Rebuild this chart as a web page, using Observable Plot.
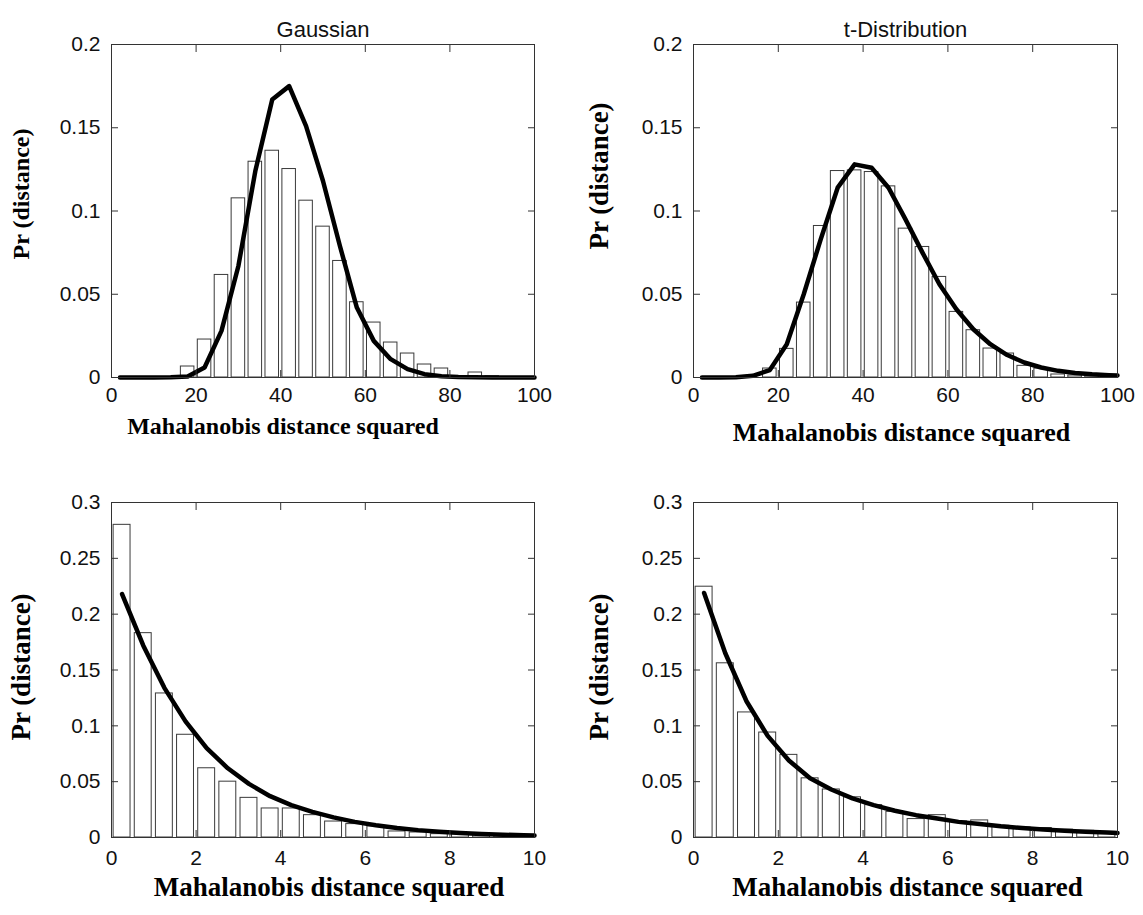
<!DOCTYPE html>
<html><head><meta charset="utf-8">
<script src="https://cdn.jsdelivr.net/npm/d3@7"></script>
<script src="https://cdn.jsdelivr.net/npm/@observablehq/plot@0.6"></script>
<style>
body{margin:0;background:#fff;}
#wrap{position:relative;width:1143px;height:915px;overflow:hidden;}
#wrap > svg{position:absolute;}
</style></head><body><div id="wrap"></div>
<script>
// ---------- data ----------
const titles = ["Gaussian", "t-Distribution"];
const xLabel = "Mahalanobis distance squared";
const yLabel = "Pr (distance)";

const topTicksX = [0, 20, 40, 60, 80, 100];
const topTicksY = [0, 0.05, 0.1, 0.15, 0.2];
const bottomTicksX = [0, 2, 4, 6, 8, 10];
const bottomTicksY = [0, 0.05, 0.1, 0.15, 0.2, 0.25, 0.3];

// top row: histogram bin centres (width 4)
const topBins = [18, 22, 26, 30, 34, 38, 42, 46, 50, 54, 58, 62, 66, 70, 74, 78, 82, 86, 90, 94, 98];
const gaussTopBars = [0.0066, 0.0228, 0.0616, 0.1076, 0.1296, 0.1362, 0.1252, 0.1062, 0.0906, 0.0700, 0.0452, 0.0330, 0.0210, 0.0144, 0.0078, 0.0054, 0.0005, 0.0030, 0.0008, 0, 0];
const tTopBars = [0.0054, 0.0172, 0.0450, 0.0910, 0.1240, 0.1244, 0.1234, 0.1148, 0.0894, 0.0784, 0.0604, 0.0394, 0.0284, 0.0174, 0.0144, 0.0070, 0.0054, 0.0018, 0.0012, 0.0008, 0.0005];

// top row: fitted curves
const topCurveX = [2, 6, 10, 14, 18, 22, 26, 30, 34, 38, 42, 46, 50, 54, 58, 62, 66, 70, 74, 78, 82, 86, 90, 94, 98, 100];
const gaussTopCurve = [0, 0, 0, 0.0001, 0.0006, 0.0060, 0.0280, 0.0670, 0.1240, 0.1670, 0.1750, 0.1510, 0.1180, 0.0790, 0.0420, 0.0220, 0.0110, 0.0050, 0.0020, 0.0008, 0.0003, 0.0001, 0, 0, 0, 0];
const tTopCurve = [0, 0, 0.0002, 0.0010, 0.0045, 0.0200, 0.0500, 0.0830, 0.1140, 0.1280, 0.1260, 0.1140, 0.0950, 0.0750, 0.0560, 0.0410, 0.0290, 0.0200, 0.0135, 0.0090, 0.0060, 0.0040, 0.0027, 0.0019, 0.0014, 0.0012];

// bottom row: histogram bin centres (width 0.5)
const bottomBins = [0.25, 0.75, 1.25, 1.75, 2.25, 2.75, 3.25, 3.75, 4.25, 4.75, 5.25, 5.75, 6.25, 6.75, 7.25, 7.75, 8.25, 8.75, 9.25, 9.75];
const gaussBottomBars = [0.280, 0.183, 0.129, 0.092, 0.062, 0.050, 0.0355, 0.026, 0.026, 0.020, 0.0143, 0.012, 0.010, 0.0054, 0.0045, 0.003, 0.003, 0.002, 0.0015, 0.001];
const tBottomBars = [0.2246, 0.156, 0.112, 0.094, 0.074, 0.053, 0.043, 0.036, 0.029, 0.023, 0.0165, 0.020, 0.0144, 0.0153, 0.0105, 0.009, 0.0085, 0.007, 0.006, 0.005];

// bottom row: fitted curves
const bottomCurveX = [0.25, 0.75, 1.25, 1.75, 2.25, 2.75, 3.25, 3.75, 4.25, 4.75, 5.25, 5.75, 6.25, 6.75, 7.25, 7.75, 8.25, 8.75, 9.25, 9.75, 10];
const gaussBottomCurve = [0.218, 0.172, 0.134, 0.104, 0.080, 0.062, 0.048, 0.037, 0.029, 0.023, 0.018, 0.014, 0.011, 0.0085, 0.0066, 0.0052, 0.0040, 0.0032, 0.0025, 0.0020, 0.0018];
const tBottomCurve = [0.219, 0.165, 0.122, 0.091, 0.069, 0.053, 0.043, 0.035, 0.029, 0.024, 0.020, 0.017, 0.014, 0.012, 0.010, 0.0085, 0.0072, 0.0061, 0.0052, 0.0044, 0.0040];

// ---------- drawing ----------
const wrap = document.getElementById("wrap");
const axisColor = "#333";
const tickFont = "Liberation Sans, Arial, sans-serif";
const labelFont = "Liberation Serif, Times New Roman, serif";
const fmt = d => String(d);

function panel(o) {
  const barData = o.bins.map((c, i) => ({c, v: o.bars[i]}));
  const lineData = o.curveX.map((x, i) => ({x, y: o.curveY[i]}));
  const marks = [
    Plot.rectY(barData, {x1: d => d.c - o.binW * 0.4, x2: d => d.c + o.binW * 0.4, y1: 0, y2: "v",
      fill: "white", stroke: "#3a3a3a", strokeWidth: 1}),
    Plot.line(lineData, {x: "x", y: "y", stroke: "black", strokeWidth: 4.5}),
    Plot.frame({stroke: axisColor, strokeWidth: 1}),
    Plot.axisX({ticks: o.xTicks, tickFormat: fmt, anchor: "bottom", tickSize: -7, tickPadding: o.xPad, label: null,
      stroke: axisColor, fontSize: 21, fontFamily: tickFont, fill: "#111"}),
    Plot.axisX({ticks: o.xTicks, anchor: "top", tickSize: -7, tickFormat: () => "", label: null, stroke: axisColor}),
    Plot.axisY({ticks: o.yTicks, tickFormat: fmt, anchor: "left", tickSize: -7, tickPadding: 18, label: null,
      stroke: axisColor, fontSize: 21, fontFamily: tickFont, fill: "#111"}),
    Plot.axisY({ticks: o.yTicks, anchor: "right", tickSize: -7, tickFormat: () => "", label: null, stroke: axisColor}),
    Plot.text([xLabel], {text: d => d, frameAnchor: "bottom", textAnchor: "middle", dx: o.xLabelDx, dy: o.xLabelDy, fontSize: o.xLabelSize,
      fontWeight: "bold", fontFamily: labelFont, fill: "black"}),
    Plot.text([yLabel], {text: d => d, frameAnchor: "left", textAnchor: "middle", rotate: -90, dx: o.yLabelDx, dy: o.yLabelDy,
      fontSize: o.yLabelSize, fontWeight: "bold", fontFamily: labelFont, fill: "black"})
  ];
  if (o.title) marks.push(Plot.text([o.title], {text: d => d, frameAnchor: "top", textAnchor: "middle", dy: -23, fontSize: 22,
    fontFamily: tickFont, fill: "#111"}));
  const svg = Plot.plot({
    width: o.width, height: o.height,
    marginLeft: o.ml, marginRight: o.mr, marginTop: o.mt, marginBottom: o.mb,
    x: {domain: o.xDomain},
    y: {domain: o.yDomain},
    style: {background: "white", overflow: "visible"},
    marks
  });
  svg.style.left = o.left + "px";
  svg.style.top = o.top + "px";
  wrap.appendChild(svg);
}

const topRow = {top: 0, height: 465, mt: 44, mb: 88, xDomain: [0, 100], yDomain: [0, 0.2], xTicks: topTicksX, yTicks: topTicksY, binW: 4, xPad: 17, bins: topBins, curveX: topCurveX};
const bottomRow = {top: 460, height: 455, mt: 42, mb: 78, xDomain: [0, 10], yDomain: [0, 0.3], xTicks: bottomTicksX, yTicks: bottomTicksY, binW: 0.5, xPad: 20, bins: bottomBins, curveX: bottomCurveX};
const leftCol = {left: 0, width: 560, ml: 111, mr: 26, yLabelDx: -90};
const rightCol = {left: 572, width: 571, ml: 121, mr: 26, yLabelDx: -94};

panel({...topRow, ...leftCol, title: titles[0], bars: gaussTopBars, curveY: gaussTopCurve, xLabelSize: 24, xLabelDx: -40, xLabelDy: 56, yLabelSize: 24, yLabelDy: -17});
panel({...topRow, ...rightCol, title: titles[1], bars: tTopBars, curveY: tTopCurve, xLabelSize: 26, xLabelDx: -4, xLabelDy: 63, yLabelSize: 27, yLabelDy: -35});
panel({...bottomRow, ...leftCol, bars: gaussBottomBars, curveY: gaussBottomCurve, xLabelSize: 27, xLabelDx: 6, xLabelDy: 58, yLabelSize: 27, yLabelDy: -3});
panel({...bottomRow, ...rightCol, bars: tBottomBars, curveY: tBottomCurve, xLabelSize: 27, xLabelDx: 2, xLabelDy: 58, yLabelSize: 27, yLabelDy: -3});
</script>
</body></html>
